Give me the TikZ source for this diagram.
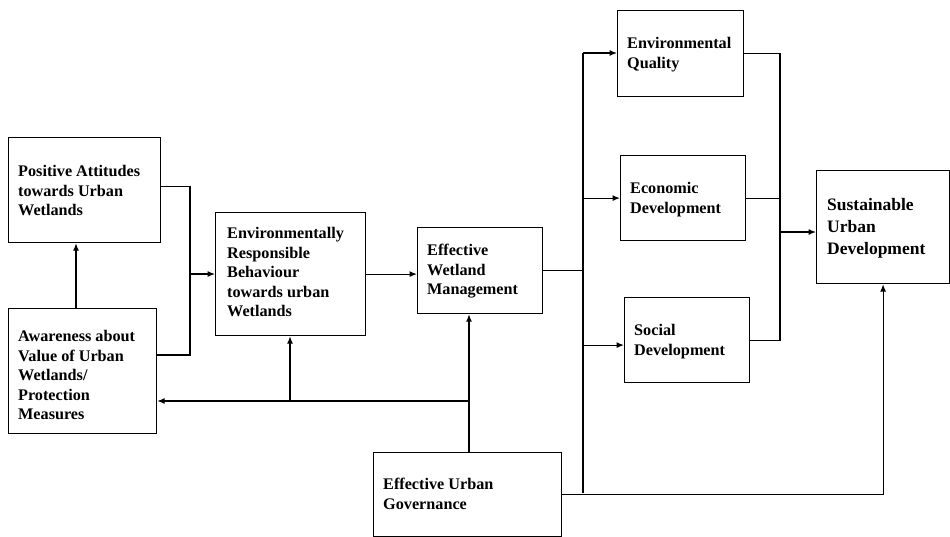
\documentclass[tikz,border=0pt]{standalone}
\usepackage{fontspec}
\setmainfont{Liberation Serif}
\usetikzlibrary{arrows.meta,calc}
\begin{document}
\begin{tikzpicture}[x=1pt,y=-1pt,
  box/.style={draw,line width=1.2pt,anchor=north west,inner sep=0pt,minimum width=#1},
  lbl/.style={anchor=north west,inner sep=0pt,align=left,font=\bfseries\fontsize{16.2}{19.6}\selectfont},
  lblbig/.style={anchor=north west,inner sep=0pt,align=left,font=\bfseries\fontsize{17.5}{22}\selectfont},
  ln/.style={line width=1.2pt},
  arr/.style={line width=1.2pt,-{Latex[length=7.5pt,width=6pt]}}]
\useasboundingbox (0,0) rectangle (950,536);
% boxes
\node[box=152,minimum height=105] (a) at (8,137) {};
\node[box=148,minimum height=125] (b) at (8,308) {};
\node[box=150,minimum height=123] (c) at (215,212) {};
\node[box=125,minimum height=86] (d) at (417,227) {};
\node[box=188,minimum height=84] (e) at (373,452) {};
\node[box=126,minimum height=86] (f) at (617,10) {};
\node[box=125,minimum height=85] (g) at (620,155) {};
\node[box=125,minimum height=85] (h) at (624,297) {};
\node[box=133,minimum height=113] (i) at (816,170) {};
% labels
\node[lbl] (ta) at (18,165) {Positive Attitudes\\towards Urban\\Wetlands};
\node[lbl] (tb) at (18,330) {Awareness about\\Value of Urban\\Wetlands/\\Protection\\Measures};
\node[lbl] (tc) at (227,227) {Environmentally\\Responsible\\Behaviour\\towards urban\\Wetlands};
\node[lbl] (td) at (427,244) {Effective\\Wetland\\Management};
\node[lbl] (te) at (383,478) {Effective Urban\\Governance};
\node[lbl] (tf) at (627,37) {Environmental\\Quality};
\node[lbl] (tg) at (630,182) {Economic\\Development};
\node[lbl] (th) at (634,324) {Social\\Development};
\node[lblbig] (ti) at (827,198) {Sustainable\\Urban\\Development};
% junction coordinates
\coordinate (jA) at (190,355);
\coordinate (jAm) at (190,274);
\coordinate (jE) at (469,401);
\coordinate (jC) at (290,401);
\coordinate (bt) at (583,53);
\coordinate (bb) at (583,493);
\coordinate (rt) at (780,53);
\coordinate (rm) at (780,232);
% left part
\draw[ln] ([yshift=4pt]a.east) -| (jA) -- (jA -| b.east);
\draw[arr] (jAm) -- (jAm -| c.west);
\draw[arr] (b.north -| 76,0) -- (a.south -| 76,0);
\draw[arr] (c.east) -- (c.east -| d.west);
\draw[arr] (jE |- e.north) -- (jE |- d.south);
\draw[arr] (jE) -- (jE -| b.east);
\draw[arr] (jC) -- (jC |- c.south);
% middle bus
\draw[ln] (d.east) -- (d.east -| bt);
\draw[ln] (bt) -- (bb);
\draw[arr] (bt) -- (bt -| f.west);
\draw[arr] (g.west -| bt) -- (g.west);
\draw[arr] ([yshift=-5pt]h.west -| bt) -- ([yshift=-5pt]h.west);
\draw[arr] (e.east) -| (i.south);
% right bus
\draw[ln] (f.east) -- (f.east -| rt) -- (rt |- h.east) -- (h.east);
\draw[ln] (g.east) -- (g.east -| rt);
\draw[arr] (rm) -- (rm -| i.west);
\end{tikzpicture}
\end{document}
